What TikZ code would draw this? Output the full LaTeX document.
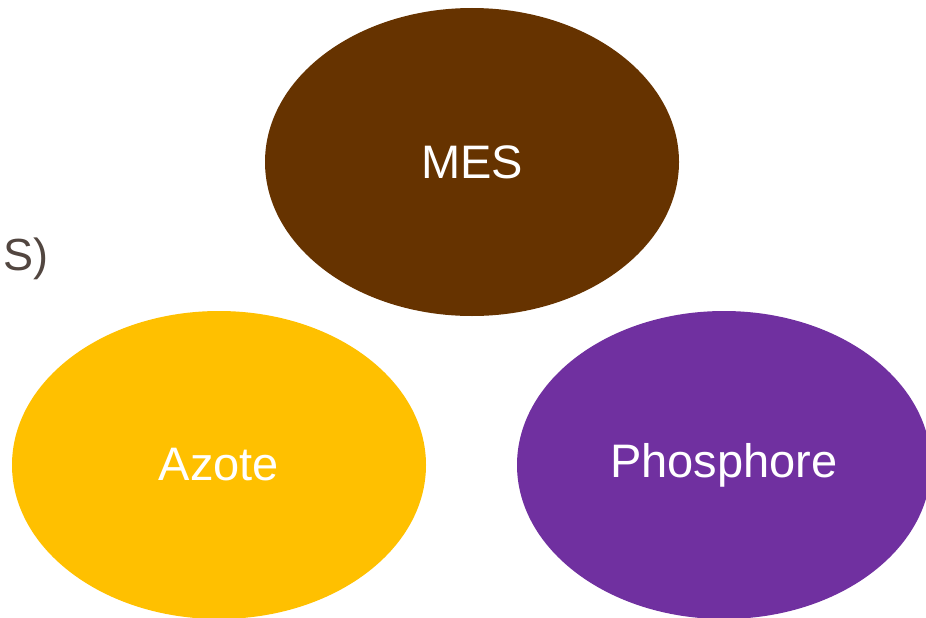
\documentclass[tikz,border=0pt]{standalone}
\usepackage{fontspec}
\setmainfont{Liberation Sans}
\usetikzlibrary{shapes.geometric}
\definecolor{mesbrown}{HTML}{663300}
\definecolor{azoteyellow}{HTML}{FFC000}
\definecolor{phospurple}{HTML}{7030A0}
\definecolor{textgray}{HTML}{524640}
\tikzset{
  blob/.style={ellipse, draw=none, minimum width=414pt, minimum height=308pt, inner sep=0pt, font=\fontsize{47}{56}\selectfont, text=white},
}
\begin{document}
\begin{tikzpicture}[x=1pt,y=-1pt]
\useasboundingbox (0,0) rectangle (926,618);
\clip (0,0) rectangle (926,618);
\node[blob, fill=mesbrown] (mes) at (472,162) {MES};
\node[blob, fill=azoteyellow] (azote) at (219,465) {Azote};
\node[blob, fill=phospurple] (phos) at (724,465) {Phosphore};
\node[anchor=base west, inner sep=0pt, text=textgray, font=\fontsize{45}{54}\selectfont] (frag) at (3,270) {S)};
\end{tikzpicture}
\end{document}
